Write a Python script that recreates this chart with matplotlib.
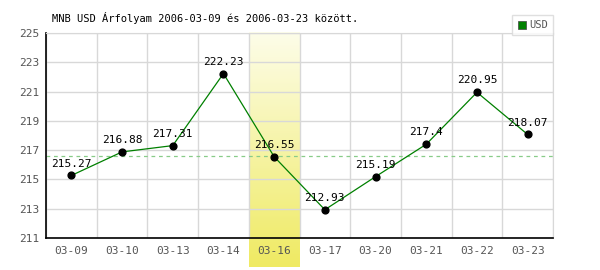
import matplotlib
matplotlib.use('Agg')
import matplotlib.pyplot as plt
import numpy as np

plt.rcParams['font.family'] = ['DejaVu Sans Mono']

dates = ["03-09", "03-10", "03-13", "03-14", "03-16", "03-17", "03-20", "03-21", "03-22", "03-23"]
usd = [215.27, 216.88, 217.31, 222.23, 216.55, 212.93, 215.19, 217.4, 220.95, 218.07]
ref_line = 216.6
highlight = "03-16"

fig = plt.figure(figsize=(6, 2.7), dpi=100)
ax = fig.add_axes([46/600, 1 - 238/270, 507/600, 205/270])

x = np.arange(len(dates))
ax.set_xlim(-0.5, len(dates) - 0.5)
ax.set_ylim(211, 225)

# highlighted column, yellow gradient (dark at bottom), running below the axis
hi = dates.index(highlight)
grad = np.linspace(1, 0, 256).reshape(-1, 1)
cmap = matplotlib.colors.LinearSegmentedColormap.from_list('yel', ['#fdfde9', '#efea62'])
ax.imshow(grad, extent=[hi - 0.5, hi + 0.5, 209.0, 225], aspect='auto', cmap=cmap,
          origin='lower', clip_on=False, zorder=0)

ax.set_xticks(x)
ax.set_xticklabels(dates)
ax.set_yticks(range(211, 226, 2))
ax.set_xticks(np.arange(-0.5, len(dates), 1), minor=True)
ax.grid(True, which='minor', axis='x', color='#d8d8d8', lw=1)
ax.grid(True, which='major', axis='y', color='#d8d8d8', lw=1)
ax.tick_params(which='both', length=0)
ax.tick_params(axis='both', colors='#555555', labelsize=8)
ax.tick_params(axis='x', pad=6)
ax.tick_params(axis='y', pad=5)

for s in ['top', 'right']:
    ax.spines[s].set_color('#d8d8d8')
for s in ['left', 'bottom']:
    ax.spines[s].set_color('black')
    ax.spines[s].set_linewidth(1.2)

ax.axhline(ref_line, color='#88cc88', lw=0.9, ls=(0, (3, 3)), zorder=2)
ax.plot(x, usd, color='green', lw=0.9, zorder=3)
ax.scatter(x, usd, s=24, color='black', zorder=4)
for xi, v in zip(x, usd):
    ax.annotate(f"{v:g}", (xi, v), xytext=(0, 5), textcoords='offset points',
                ha='center', va='bottom', fontsize=8, color='black', zorder=5)

fig.text(52/600, 1 - 18/270, "MNB USD Árfolyam 2006-03-09 és 2006-03-23 között.",
         fontsize=7.5, va='center', ha='left', color='black')

# legend box
leg = ax.legend([plt.Rectangle((0, 0), 1, 1, fc='green', ec='#444444', lw=0.5)], ['USD'],
                loc='upper right', bbox_to_anchor=(553/600, 1 - 15/270),
                bbox_transform=fig.transFigure, fontsize=7.5, frameon=True, fancybox=False,
                handlelength=0.8, handleheight=0.8, handletextpad=0.3, borderpad=0.5,
                borderaxespad=0)
leg.get_frame().set_edgecolor('#d8d8d8')
leg.get_frame().set_linewidth(1)
for t in leg.get_texts():
    t.set_color('#555555')

fig.savefig('out.png', dpi=100)
